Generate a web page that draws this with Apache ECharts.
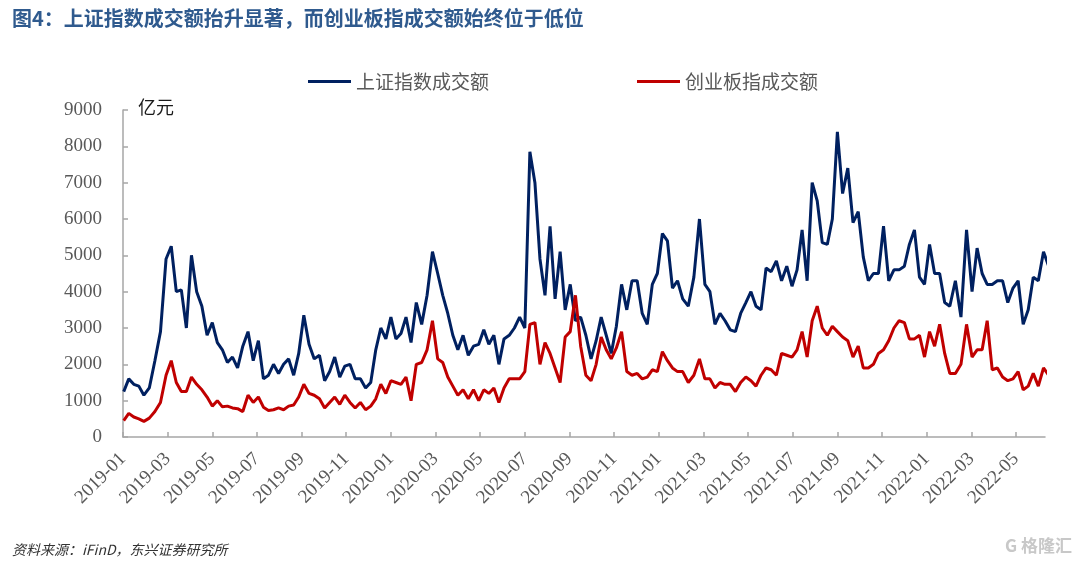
<!DOCTYPE html>
<html><head><meta charset="utf-8">
<script src="https://cdn.jsdelivr.net/npm/echarts@6/dist/echarts.min.js"></script>
<style>html,body{margin:0;padding:0;background:#fff}#c{width:1080px;height:565px}</style>
</head><body><div id="c"></div>
<script>
// Weekly observations starting from this date (one value per week)
const startDate = '2019-01-02';
const stepDays = 7;

// 上证指数成交额 (亿元), weekly readings
const shVol = [
1250,1600,1450,1400,1150,1350,2100,2900,4900,5250,
4000,4050,3000,5000,4000,3600,2800,3150,2600,2400,
2050,2200,1900,2500,2900,2100,2650,1600,1700,2000,
1750,2000,2150,1700,2300,3350,2550,2150,2250,1550,
1800,2200,1650,1950,2000,1600,1600,1350,1500,2400,
3000,2700,3300,2700,2850,3300,2600,3700,3100,3900,
5100,4500,3900,3400,2800,2400,2800,2250,2500,2550,
2950,2550,2800,2000,2700,2800,3000,3300,3000,7850,
7000,4900,3900,5800,3800,5100,3500,4200,3200,3300,
2800,2150,2650,3300,2800,2300,3050,4200,3500,4300,
4300,3400,3100,4200,4500,5600,5400,4100,4300,3800,
3600,4400,6000,4200,4000,3100,3400,3200,2950,2900,
3400,3700,4000,3600,3500,4650,4550,4850,4300,4700,
4150,4600,5700,4300,7000,6500,5350,5300,6000,8400,
6700,7400,5900,6200,4950,4300,4500,4500,5800,4300,
4600,4600,4700,5300,5700,4400,4200,5300,4500,4500,
3700,3600,4300,3300,5700,4000,5200,4500,4200,4200,
4300,4300,3700,4100,4300,3100,3500,4400,4300,5100,
4700
];

// 创业板指成交额 (亿元), weekly readings
const cyVol = [
450,650,550,500,430,520,700,950,1700,2100,
1500,1250,1250,1650,1450,1300,1100,850,1000,830,
850,800,780,700,1150,950,1100,820,730,750,
800,750,850,880,1100,1450,1200,1150,1050,800,
950,1100,900,1150,950,800,950,750,850,1050,
1450,1200,1550,1500,1450,1650,1000,2000,2050,2400,
3200,2150,2050,1650,1400,1150,1300,1050,1300,1000,
1300,1200,1350,950,1350,1600,1600,1600,1800,3100,
3150,2000,2600,2300,1900,1500,2750,2900,3900,2500,
1700,1550,2000,2750,2400,2150,2450,2900,1800,1700,
1750,1600,1650,1850,1800,2350,2100,1900,1800,1800,
1500,1700,2150,1600,1600,1350,1500,1450,1450,1250,
1500,1650,1550,1400,1700,1900,1850,1700,2300,2250,
2200,2400,2900,2200,3200,3600,3000,2800,3050,2900,
2750,2650,2200,2500,1900,1900,2000,2300,2400,2650,
3000,3200,3150,2700,2700,2800,2200,2900,2500,3100,
2300,1750,1750,2000,3100,2200,2400,2400,3200,1850,
1900,1650,1550,1600,1800,1300,1400,1750,1400,1900,
1700
];

// x-axis tick labels (every two months)
const xTickLabels = ['2019-01','2019-03','2019-05','2019-07','2019-09','2019-11',
  '2020-01','2020-03','2020-05','2020-07','2020-09','2020-11',
  '2021-01','2021-03','2021-05','2021-07','2021-09','2021-11',
  '2022-01','2022-03','2022-05'];
const xEndDate = '2022-06-10';

const seriesNames = ['上证指数成交额', '创业板指成交额'];

function monthIndex(d) {
  const y = d.getUTCFullYear(), m = d.getUTCMonth(), day = d.getUTCDate();
  const dim = new Date(Date.UTC(y, m + 1, 0)).getUTCDate();
  return (y - 2019) * 12 + m + (day - 1) / dim;
}
function labelIndex(s) {
  const [y, m] = s.split('-').map(Number);
  return (y - 2019) * 12 + (m - 1);
}
const t0 = new Date(startDate + 'T00:00:00Z');
function pairs(vals) {
  return vals.map((v, i) => {
    const d = new Date(t0.getTime() + i * stepDays * 86400000);
    return [monthIndex(d), v];
  });
}
const tickVals = xTickLabels.map(labelIndex);
const labelMap = {};
xTickLabels.forEach(s => { labelMap[labelIndex(s)] = s; });

const chart = echarts.init(document.getElementById('c'), null, {renderer: 'canvas'});
const axisColor = '#A6A6A6';
const serif = '"Liberation Serif", "Times New Roman", serif';
const cjk = '"Noto Sans CJK SC", sans-serif';

chart.setOption({
  animation: false,
  backgroundColor: '#fff',
  grid: {left: 123, right: 35, top: 110, bottom: 128},
  legend: {
    data: seriesNames,
    left: 303, top: 67,
    icon: 'rect', itemWidth: 43, itemHeight: 3, itemGap: 148,
    textStyle: {fontSize: 19, color: '#595959', fontFamily: cjk}
  },
  graphic: [
    {type: 'text', left: 12, top: 8, style: {text: '图4：上证指数成交额抬升显著，而创业板指成交额始终位于低位',
      font: 'bold 20px ' + cjk, fill: '#2F5A8E'}},
    {type: 'text', left: 138, top: 98, style: {text: '亿元', font: '18px ' + cjk, fill: '#1a1a1a'}},
    {type: 'text', left: 12, top: 543, style: {text: '资料来源：iFinD，东兴证券研究所', font: 'italic 14px ' + cjk, fill: '#333'}},
    {type: 'text', right: 8, top: 537, style: {text: 'G 格隆汇', font: 'bold 17px ' + cjk, fill: '#C8C8C8'}}
  ],
  xAxis: {
    type: 'value', min: 0, max: monthIndex(new Date(xEndDate + 'T00:00:00Z')),
    splitLine: {show: false},
    axisLine: {show: true, lineStyle: {color: axisColor, width: 1.5}},
    axisTick: {show: true, inside: true, length: 5, customValues: tickVals, lineStyle: {color: axisColor, width: 1.5}},
    axisLabel: {customValues: tickVals, rotate: 45, margin: 19, fontFamily: serif, fontSize: 19, color: '#595959',
      formatter: v => labelMap[Math.round(v)] || ''}
  },
  yAxis: {
    type: 'value', min: 0, max: 9000, interval: 1000,
    splitLine: {show: false},
    axisLine: {show: true, lineStyle: {color: axisColor, width: 1.5}},
    axisTick: {show: true, inside: true, length: 5, lineStyle: {color: axisColor, width: 1.5}},
    axisLabel: {margin: 21, fontFamily: serif, fontSize: 19, color: '#595959', formatter: v => String(v)}
  },
  series: [
    {name: seriesNames[0], type: 'line', data: pairs(shVol), showSymbol: false, symbol: 'none',
      lineStyle: {color: '#002060', width: 3}, itemStyle: {color: '#002060'}},
    {name: seriesNames[1], type: 'line', data: pairs(cyVol), showSymbol: false, symbol: 'none',
      lineStyle: {color: '#C00000', width: 3}, itemStyle: {color: '#C00000'}}
  ]
});
</script>
</body></html>
